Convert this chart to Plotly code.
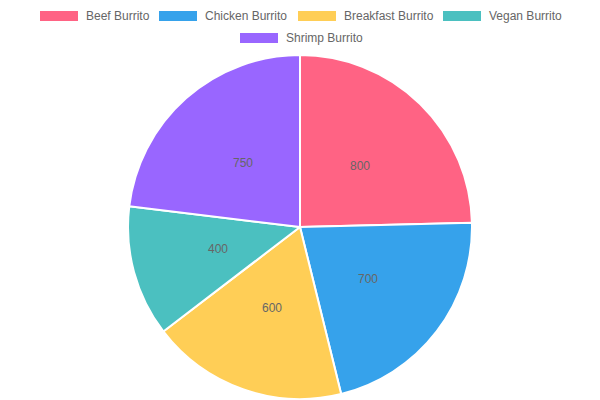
import math
import plotly.graph_objects as go

labels = ["Beef Burrito", "Chicken Burrito", "Breakfast Burrito", "Vegan Burrito", "Shrimp Burrito"]
values = [800, 700, 600, 400, 750]
colors = ["#FF6384", "#36A2EB", "#FFCE56", "#4BC0C0", "#9966FF"]

W, H = 600, 400
cx, cy, R = 300, 227, 171   # pie centre / radius in pixels

fig = go.Figure()
fig.add_trace(go.Pie(
    labels=labels,
    values=values,
    sort=False,
    direction="clockwise",
    rotation=0,
    marker=dict(colors=colors, line=dict(color="white", width=2)),
    textinfo="none",
    domain=dict(x=[0, 1], y=[1 - (cy + R + 1) / H, 1 - (cy - R - 1) / H]),
    showlegend=False,
    hoverinfo="label+value",
))

# value labels at half radius, middle of each slice (Chart.js datalabels style)
total = sum(values)
cum = 0
for v in values:
    mid = (cum + v / 2) / total * 2 * math.pi
    cum += v
    px = cx + 0.5 * R * math.sin(mid)
    py = cy - 0.5 * R * math.cos(mid)
    fig.add_annotation(text=str(v), xref="paper", yref="paper",
                       x=px / W, y=1 - py / H, showarrow=False,
                       xanchor="center", yanchor="middle",
                       font=dict(family="Liberation Sans, Arial", size=12, color="#666666"))

# legend drawn by hand to get the wide Chart.js-style swatches
item_x = [40, 159, 298, 443, 240]
item_y = [16, 16, 16, 16, 38]
for i in range(len(labels)):
    x0, y = item_x[i], item_y[i]
    fig.add_shape(type="rect", xref="paper", yref="paper",
                  x0=x0 / W, x1=(x0 + 38) / W,
                  y0=1 - (y + 5) / H, y1=1 - (y - 5) / H,
                  fillcolor=colors[i], line=dict(width=0))
    fig.add_annotation(text=labels[i], xref="paper", yref="paper",
                       x=(x0 + 44) / W, y=1 - y / H,
                       xanchor="left", yanchor="middle", showarrow=False,
                       font=dict(family="Liberation Sans, Arial", size=12, color="#666666"))

fig.update_layout(
    width=W, height=H,
    margin=dict(l=0, r=0, t=0, b=0),
    paper_bgcolor="white",
    plot_bgcolor="white",
)

fig.write_html("out.html", config={"displayModeBar": False},
               post_script="document.body.style.margin='0';")
